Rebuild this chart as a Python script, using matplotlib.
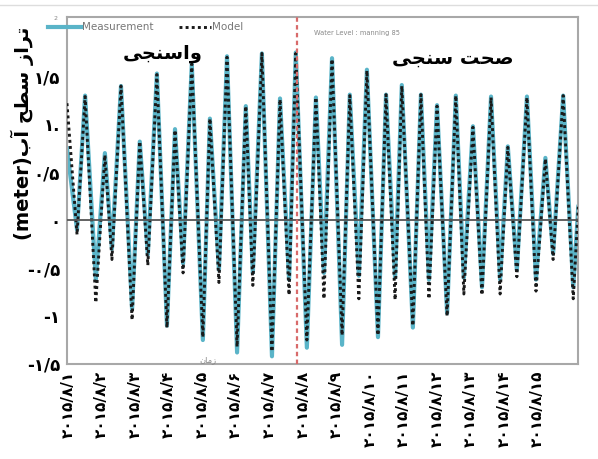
import matplotlib
matplotlib.use("Agg")
import matplotlib.pyplot as plt
from matplotlib.lines import Line2D

plt.rcParams['font.family'] = ['DejaVu Sans']

# tide extremes (time in days of August 2015, water level in metres)
times = [0.97, 1.27, 1.51, 1.83, 2.10, 2.31, 2.58, 2.91, 3.14, 3.38,
         3.65, 3.95, 4.19, 4.43, 4.69, 5.02, 5.23, 5.50, 5.74, 6.04,
         6.30, 6.51, 6.78, 7.08, 7.32, 7.59, 7.79, 8.12, 8.39, 8.63,
         8.87, 9.17, 9.40, 9.67, 9.91, 10.24, 10.48, 10.75, 10.95, 11.28,
         11.52, 11.76, 12.00, 12.30, 12.56, 12.80, 13.07, 13.34, 13.61, 13.88,
         14.11, 14.38, 14.68, 14.95, 15.23, 15.46, 15.76, 16.06, 16.21]

measurement = [0.75, -0.10, 1.30, -0.62, 0.70, -0.30, 1.40, -0.93, 0.82, -0.36,
               1.53, -1.10, 0.95, -0.45, 1.63, -1.25, 1.06, -0.52, 1.71, -1.38,
               1.19, -0.55, 1.74, -1.42, 1.27, -0.62, 1.75, -1.33, 1.28, -0.55,
               1.69, -1.30, 1.31, -0.58, 1.57, -1.22, 1.31, -0.60, 1.41, -1.12,
               1.31, -0.62, 1.20, -0.97, 1.30, -0.60, 0.98, -0.70, 1.29, -0.62,
               0.77, -0.52, 1.29, -0.62, 0.65, -0.35, 1.30, -0.70, 0.14]

model = [1.22, -0.15, 1.29, -0.86, 0.68, -0.41, 1.40, -1.04, 0.82, -0.47,
         1.52, -1.12, 0.94, -0.55, 1.63, -1.22, 1.06, -0.65, 1.70, -1.32,
         1.19, -0.68, 1.74, -1.37, 1.26, -0.78, 1.74, -1.25, 1.28, -0.82,
         1.68, -1.20, 1.30, -0.82, 1.56, -1.20, 1.31, -0.83, 1.40, -1.10,
         1.31, -0.82, 1.19, -1.00, 1.30, -0.77, 0.97, -0.78, 1.28, -0.77,
         0.76, -0.59, 1.28, -0.74, 0.64, -0.41, 1.30, -0.82, 0.14]

split_day = 7.82  # end of calibration

day_ticks = list(range(1, 16))
day_labels = ['\u06f2\u06f0\u06f1\u06f5/\u06f8/' + s for s in
              ['\u06f1', '\u06f2', '\u06f3', '\u06f4', '\u06f5', '\u06f6', '\u06f7', '\u06f8',
               '\u06f9', '\u06f1\u06f0', '\u06f1\u06f1', '\u06f1\u06f2', '\u06f1\u06f3',
               '\u06f1\u06f4', '\u06f1\u06f5']]
level_ticks = [-1.5, -1, -0.5, 0, 0.5, 1, 1.5]
level_labels = ['-\u06f1/\u06f5', '-\u06f1', '-\u06f0/\u06f5', '\u06f0',
                '\u06f0/\u06f5', '\u06f1.', '\u06f1/\u06f5']

# Persian strings in visual (left-to-right) order with joined letter forms
txt_calib = '\ufbfd\ufea0\ufee8\ufeb3\ufe8d\ufeed'                 # واسنجی
txt_valid = '\ufbfd\ufea0\ufee8\ufeb3 \ufe96\ufea4\ufebb'          # صحت سنجی
txt_time = '\ufee5\ufe8e\ufee3\ufeaf'                              # زمان
txt_ylabel = '(meter)\ufe8f\ufe81 \ufea2\ufec4\ufeb3 \ufeaf\ufe8d\ufeae\ufe97'  # تراز سطح آب(meter)

fig = plt.figure(figsize=(5.98, 4.59), dpi=100)
ax = fig.add_axes([0.112, 0.207, 0.855, 0.756])

ax.plot(times, measurement, color='#5ab4c8', lw=3, label='Measurement', zorder=2)
ax.plot(times, model, color='#1a1a1a', lw=2.1, linestyle=(0, (1, 1.1)),
        label='Model', zorder=3)
ax.axhline(0, color='#555555', lw=1.3, zorder=4)
ax.axvline(split_day, color='#d86a6a', lw=1.6, linestyle=(0, (2, 1.5)), zorder=5)

ax.set_xlim(0.97, 16.21)
ax.set_ylim(-1.5, 2.12)
ax.set_xticks(day_ticks)
ax.set_xticklabels(day_labels, rotation=90, fontsize=11, fontweight='bold')
ax.set_yticks(level_ticks)
ax.set_yticklabels(level_labels, fontsize=12, fontweight='bold')
ax.tick_params(length=0, pad=5)
for sp in ax.spines.values():
    sp.set_color('#a8a8a8')
    sp.set_linewidth(1.5)

ax.text(-0.022, 2.1, '2', transform=ax.get_yaxis_transform(), fontsize=4.5,
        color='#888888', ha='center', va='center')

leg = ax.legend(loc='upper left', bbox_to_anchor=(-0.055, 1.012), ncol=2, frameon=False,
                fontsize=7.5, handlelength=3.1, handletextpad=0.15, columnspacing=2.4,
                labelcolor='#777777')

ax.text(3.83, 1.74, txt_calib, fontsize=14, fontweight='bold', ha='center', va='center')
ax.text(12.47, 1.69, txt_valid, fontsize=14, fontweight='bold', ha='center', va='center')
ax.text(9.6, 1.95, 'Water Level : manning 85', fontsize=4.8, color='#888888',
        ha='center', va='center')
ax.text(5.18, -1.45, txt_time, fontsize=6, color='#888888', ha='center', va='center')

fig.text(0.037, 0.71, txt_ylabel, rotation=90, fontsize=14, fontweight='bold',
         ha='center', va='center')
fig.add_artist(Line2D([0, 1], [0.99, 0.99], color='#dddddd', lw=1))

fig.savefig('out.png', dpi=100)
